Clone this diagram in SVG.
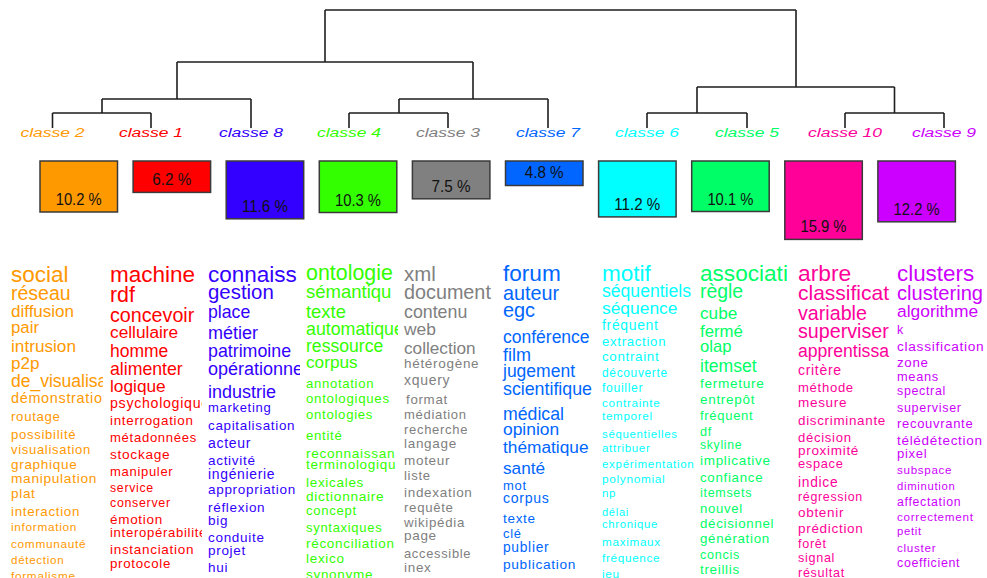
<svg xmlns="http://www.w3.org/2000/svg" width="987" height="578" viewBox="0 0 987 578">
<style>
text{font-family:"Liberation Sans",Arial,sans-serif}
.lab{font-style:italic;font-size:17.5px;text-anchor:middle}
.box{stroke:#3a3a3a;stroke-width:1.5}
.pct{font-size:16px;fill:#111;text-anchor:middle}
.link{fill:none;stroke:#1e1e1e;stroke-width:1.6}
.s{letter-spacing:0.7px}
.k1{fill:#FF0000}.k2{fill:#FF9900}.k3{fill:#808080}.k4{fill:#33FF00}.k5{fill:#00FF66}
.k6{fill:#00FFFF}.k7{fill:#0066FF}.k8{fill:#3300FF}.k9{fill:#CC00FF}.k10{fill:#FF0099}
</style>
<defs>
<clipPath id="cl0"><rect x="8" y="250" width="95" height="330"/></clipPath>
<clipPath id="cl1"><rect x="107" y="250" width="95" height="330"/></clipPath>
<clipPath id="cl2"><rect x="205" y="250" width="95" height="330"/></clipPath>
<clipPath id="cl3"><rect x="303" y="250" width="95" height="330"/></clipPath>
<clipPath id="cl4"><rect x="401" y="250" width="96" height="330"/></clipPath>
<clipPath id="cl5"><rect x="500" y="250" width="96" height="330"/></clipPath>
<clipPath id="cl6"><rect x="599" y="250" width="95" height="330"/></clipPath>
<clipPath id="cl7"><rect x="697" y="250" width="95" height="330"/></clipPath>
<clipPath id="cl8"><rect x="795" y="250" width="95" height="330"/></clipPath>
<clipPath id="cl9"><rect x="894" y="250" width="93" height="330"/></clipPath>
</defs>
<rect width="987" height="578" fill="#fff"/>

<g id="connectors">
<path class="link" d="M325 10H796M325 10V62M796 10V87
M177 62H473M177 62V99M473 62V99
M102 99H251M102 99V113M251 99V128
M52.5 113H151M52.5 113V128M151 113V128
M399 99H548M399 99V113M548 99V128
M349 113H448M349 113V128M448 113V128
M697 87H894.5M697 87V113M894.5 87V113
M647 113H747M647 113V128M747 113V128
M845 113H944M845 113V128M944 113V128"/>
</g>

<g id="classe-2">
<text class="lab k2" transform="translate(52.5,137) scale(1,0.7)">classe 2</text>
<rect class="box k2" x="40" y="161" width="77.5" height="51"/>
<text class="pct" x="78.7" y="205" textLength="46" lengthAdjust="spacingAndGlyphs">10.2 %</text>
<g class="k2" clip-path="url(#cl0)">
<text x="11" y="282" font-size="22.5">social</text>
<text x="11" y="300" font-size="19.5">réseau</text>
<text x="11" y="317" font-size="17">diffusion</text>
<text x="11" y="333" font-size="16.8">pair</text>
<text x="11" y="351.5" font-size="17.2">intrusion</text>
<text x="11" y="369" font-size="17">p2p</text>
<text x="11" y="387" font-size="17.5">de_visualisa</text>
<text class="s" x="11" y="403" font-size="14.4">démonstration</text>
<text class="s" x="11" y="421" font-size="13.2">routage</text>
<text class="s" x="11" y="439" font-size="13.1">possibilité</text>
<text class="s" x="11" y="454" font-size="13">visualisation</text>
<text class="s" x="11" y="469" font-size="13.5">graphique</text>
<text class="s" x="11" y="483" font-size="13.7">manipulation</text>
<text class="s" x="11" y="498" font-size="13.5">plat</text>
<text class="s" x="11" y="516" font-size="13.3">interaction</text>
<text class="s" x="11" y="531" font-size="11.8">information</text>
<text class="s" x="11" y="548" font-size="11.8">communauté</text>
<text class="s" x="11" y="564" font-size="11.6">détection</text>
<text class="s" x="11" y="580" font-size="11.8">formalisme</text>
</g>
</g>

<g id="classe-1">
<text class="lab k1" transform="translate(151,137) scale(1,0.7)">classe 1</text>
<rect class="box k1" x="133.1" y="161" width="77.5" height="31.4"/>
<text class="pct" x="171.8" y="185" textLength="39" lengthAdjust="spacingAndGlyphs">6.2 %</text>
<g class="k1" clip-path="url(#cl1)">
<text x="110" y="282" font-size="22.5">machine</text>
<text x="110" y="302" font-size="21.4">rdf</text>
<text x="110" y="321.5" font-size="19.7">concevoir</text>
<text x="110" y="338" font-size="17.3">cellulaire</text>
<text x="110" y="356.5" font-size="17.5">homme</text>
<text x="110" y="375" font-size="17.7">alimenter</text>
<text x="110" y="391.5" font-size="17.3">logique</text>
<text class="s" x="110" y="408" font-size="14.2">psychologique</text>
<text class="s" x="110" y="425" font-size="13.4">interrogation</text>
<text class="s" x="110" y="442" font-size="13.1">métadonnées</text>
<text class="s" x="110" y="459" font-size="13.7">stockage</text>
<text class="s" x="110" y="476" font-size="13">manipuler</text>
<text class="s" x="110" y="492" font-size="12.3">service</text>
<text class="s" x="110" y="507" font-size="12.4">conserver</text>
<text class="s" x="110" y="524" font-size="13.5">émotion</text>
<text class="s" x="110" y="537" font-size="13.1">interopérabilité</text>
<text class="s" x="110" y="554" font-size="13.5">instanciation</text>
<text class="s" x="110" y="568" font-size="13.3">protocole</text>
</g>
</g>

<g id="classe-8">
<text class="lab k8" transform="translate(251,137) scale(1,0.7)">classe 8</text>
<rect class="box k8" x="226.2" y="161" width="77.5" height="57.8"/>
<text class="pct" x="264.9" y="211.5" textLength="46" lengthAdjust="spacingAndGlyphs">11.6 %</text>
<g class="k8" clip-path="url(#cl2)">
<text x="208" y="281.5" font-size="22.5">connaiss</text>
<text x="208" y="299" font-size="20.4">gestion</text>
<text x="208" y="317.5" font-size="17.7">place</text>
<text x="208" y="339" font-size="18">métier</text>
<text x="208" y="356.5" font-size="17.8">patrimoine</text>
<text x="208" y="375" font-size="18">opérationnel</text>
<text x="208" y="397.5" font-size="18">industrie</text>
<text class="s" x="208" y="411.5" font-size="13">marketing</text>
<text class="s" x="208" y="430" font-size="13.4">capitalisation</text>
<text class="s" x="208" y="448" font-size="14">acteur</text>
<text class="s" x="208" y="465" font-size="13.5">activité</text>
<text class="s" x="208" y="479" font-size="13.9">ingénierie</text>
<text class="s" x="208" y="494" font-size="13.5">appropriation</text>
<text class="s" x="208" y="512" font-size="13.5">réflexion</text>
<text class="s" x="208" y="525" font-size="13.5">big</text>
<text class="s" x="208" y="542" font-size="13.5">conduite</text>
<text class="s" x="208" y="555" font-size="13.5">projet</text>
<text class="s" x="208" y="572" font-size="13.5">hui</text>
</g>
</g>

<g id="classe-4">
<text class="lab k4" transform="translate(349,137) scale(1,0.7)">classe 4</text>
<rect class="box k4" x="319.3" y="161" width="77.5" height="51.5"/>
<text class="pct" x="358" y="205.5" textLength="46" lengthAdjust="spacingAndGlyphs">10.3 %</text>
<g class="k4" clip-path="url(#cl3)">
<text x="306" y="280" font-size="21.4">ontologie</text>
<text x="306" y="298" font-size="18.5">sémantiqu</text>
<text x="306" y="317.5" font-size="18.4">texte</text>
<text x="306" y="335" font-size="17.8">automatique</text>
<text x="306" y="351.5" font-size="17.6">ressource</text>
<text x="306" y="368" font-size="17.2">corpus</text>
<text class="s" x="306" y="388" font-size="13.1">annotation</text>
<text class="s" x="306" y="403" font-size="13.3">ontologiques</text>
<text class="s" x="306" y="419" font-size="13.2">ontologies</text>
<text class="s" x="306" y="440" font-size="13.2">entité</text>
<text class="s" x="306" y="457.5" font-size="13.6">reconnaissan</text>
<text class="s" x="306" y="469" font-size="13.5">terminologiqu</text>
<text class="s" x="306" y="487" font-size="13.5">lexicales</text>
<text class="s" x="306" y="501" font-size="13.7">dictionnaire</text>
<text class="s" x="306" y="515" font-size="13.1">concept</text>
<text class="s" x="306" y="532" font-size="13">syntaxiques</text>
<text class="s" x="306" y="548" font-size="13.5">réconciliation</text>
<text class="s" x="306" y="563" font-size="13.5">lexico</text>
<text class="s" x="306" y="579" font-size="13.5">synonyme</text>
</g>
</g>

<g id="classe-3">
<text class="lab k3" transform="translate(448,137) scale(1,0.7)">classe 3</text>
<rect class="box k3" x="412.4" y="161" width="77.5" height="37.8"/>
<text class="pct" x="451.1" y="192" textLength="39" lengthAdjust="spacingAndGlyphs">7.5 %</text>
<g class="k3" clip-path="url(#cl4)">
<text x="404" y="281" font-size="20.4">xml</text>
<text x="404" y="299" font-size="19.8">document</text>
<text x="404" y="317.5" font-size="17.8">contenu</text>
<text x="404" y="335" font-size="17.4">web</text>
<text x="404" y="354" font-size="17.2">collection</text>
<text class="s" x="404" y="368" font-size="13.5">hétérogène</text>
<text class="s" x="404" y="385" font-size="14">xquery</text>
<text class="s" x="406" y="404" font-size="13.3">format</text>
<text class="s" x="404" y="419" font-size="13">médiation</text>
<text class="s" x="404" y="434" font-size="13">recherche</text>
<text class="s" x="404" y="448" font-size="13.5">langage</text>
<text class="s" x="404" y="465" font-size="13.5">moteur</text>
<text class="s" x="404" y="480" font-size="13.1">liste</text>
<text class="s" x="404" y="497" font-size="13.5">indexation</text>
<text class="s" x="404" y="512" font-size="13.2">requête</text>
<text class="s" x="404" y="527" font-size="13.3">wikipédia</text>
<text class="s" x="404" y="540" font-size="13.5">page</text>
<text class="s" x="404" y="558" font-size="12.9">accessible</text>
<text class="s" x="404" y="572" font-size="13.5">inex</text>
</g>
</g>

<g id="classe-7">
<text class="lab k7" transform="translate(548,137) scale(1,0.7)">classe 7</text>
<rect class="box k7" x="505.5" y="161" width="77.5" height="24.5"/>
<text class="pct" x="544.2" y="178" textLength="39" lengthAdjust="spacingAndGlyphs">4.8 %</text>
<g class="k7" clip-path="url(#cl5)">
<text x="503" y="281" font-size="22.6">forum</text>
<text x="503" y="300" font-size="19.8">auteur</text>
<text x="503" y="316.5" font-size="19.9">egc</text>
<text x="503" y="342.5" font-size="17.5">conférence</text>
<text x="503" y="361" font-size="18">film</text>
<text x="503" y="376.5" font-size="17.5">jugement</text>
<text x="503" y="395" font-size="17.8">scientifique</text>
<text x="503" y="420" font-size="17.7">médical</text>
<text x="503" y="435" font-size="17.4">opinion</text>
<text x="503" y="453" font-size="17.3">thématique</text>
<text x="503" y="474" font-size="17.2">santé</text>
<text class="s" x="503" y="490" font-size="13">mot</text>
<text class="s" x="503" y="503" font-size="14.1">corpus</text>
<text class="s" x="503" y="523" font-size="13.5">texte</text>
<text class="s" x="503" y="538" font-size="12.9">clé</text>
<text class="s" x="503" y="552" font-size="13.8">publier</text>
<text class="s" x="503" y="569" font-size="13.7">publication</text>
</g>
</g>

<g id="classe-6">
<text class="lab k6" transform="translate(647,137) scale(1,0.7)">classe 6</text>
<rect class="box k6" x="598.6" y="161" width="77.5" height="55.9"/>
<text class="pct" x="637.3" y="210" textLength="46" lengthAdjust="spacingAndGlyphs">11.2 %</text>
<g class="k6" clip-path="url(#cl6)">
<text x="602" y="281" font-size="22.5">motif</text>
<text x="602" y="297" font-size="17.6">séquentiels</text>
<text x="602" y="314" font-size="17.4">séquence</text>
<text class="s" x="602" y="330" font-size="13.9">fréquent</text>
<text class="s" x="602" y="346" font-size="13.2">extraction</text>
<text class="s" x="602" y="361" font-size="13.3">contraint</text>
<text class="s" x="602" y="377" font-size="11.9">découverte</text>
<text class="s" x="602" y="392" font-size="12.1">fouiller</text>
<text class="s" x="602" y="407" font-size="11.7">contrainte</text>
<text class="s" x="602" y="420" font-size="11.6">temporel</text>
<text class="s" x="602" y="437.5" font-size="11.4">séquentielles</text>
<text class="s" x="602" y="452" font-size="11.5">attribuer</text>
<text class="s" x="602" y="468" font-size="11.5">expérimentation</text>
<text class="s" x="602" y="483" font-size="11.8">polynomial</text>
<text class="s" x="602" y="497" font-size="11.5">np</text>
<text class="s" x="602" y="516" font-size="11.1">délai</text>
<text class="s" x="602" y="528" font-size="11.3">chronique</text>
<text class="s" x="602" y="546" font-size="11.7">maximaux</text>
<text class="s" x="602" y="562" font-size="11.7">fréquence</text>
<text class="s" x="602" y="578" font-size="11.7">jeu</text>
</g>
</g>

<g id="classe-5">
<text class="lab k5" transform="translate(747,137) scale(1,0.7)">classe 5</text>
<rect class="box k5" x="691.7" y="161" width="77.5" height="50.5"/>
<text class="pct" x="730.4" y="204.5" textLength="46" lengthAdjust="spacingAndGlyphs">10.1 %</text>
<g class="k5" clip-path="url(#cl7)">
<text x="700" y="281" font-size="22.6">associati</text>
<text x="700" y="298" font-size="19.4">règle</text>
<text x="700" y="319" font-size="17.2">cube</text>
<text x="700" y="336.5" font-size="16.8">fermé</text>
<text x="700" y="351.5" font-size="16.6">olap</text>
<text x="700" y="371.5" font-size="17.6">itemset</text>
<text class="s" x="700" y="388" font-size="13.6">fermeture</text>
<text class="s" x="700" y="404" font-size="13.5">entrepôt</text>
<text class="s" x="700" y="420" font-size="13">fréquent</text>
<text class="s" x="700" y="435.5" font-size="12.6">df</text>
<text class="s" x="700" y="449" font-size="12.2">skyline</text>
<text class="s" x="700" y="465" font-size="13.5">implicative</text>
<text class="s" x="700" y="482" font-size="13.3">confiance</text>
<text class="s" x="700" y="497" font-size="12.5">itemsets</text>
<text class="s" x="700" y="513" font-size="13.1">nouvel</text>
<text class="s" x="700" y="528" font-size="13.3">décisionnel</text>
<text class="s" x="700" y="543" font-size="13.3">génération</text>
<text class="s" x="700" y="559" font-size="12.6">concis</text>
<text class="s" x="700" y="574" font-size="13.4">treillis</text>
</g>
</g>

<g id="classe-10">
<text class="lab k10" transform="translate(845,137) scale(1,0.7)">classe 10</text>
<rect class="box k10" x="784.8" y="161" width="77.5" height="78.4"/>
<text class="pct" x="823.5" y="232" textLength="46" lengthAdjust="spacingAndGlyphs">15.9 %</text>
<g class="k10" clip-path="url(#cl8)">
<text x="798" y="281" font-size="22.8">arbre</text>
<text x="798" y="300" font-size="21">classificat</text>
<text x="798" y="320" font-size="19.7">variable</text>
<text x="798" y="338" font-size="19.7">superviser</text>
<text x="798" y="356.5" font-size="17.6">apprentissa</text>
<text class="s" x="798" y="375" font-size="14">critère</text>
<text class="s" x="798" y="391.5" font-size="13.1">méthode</text>
<text class="s" x="798" y="406.5" font-size="13.5">mesure</text>
<text class="s" x="798" y="425" font-size="13.4">discriminante</text>
<text class="s" x="798" y="441.5" font-size="13.1">décision</text>
<text class="s" x="798" y="455" font-size="13.5">proximité</text>
<text class="s" x="798" y="468" font-size="12.8">espace</text>
<text class="s" x="798" y="487" font-size="13.8">indice</text>
<text class="s" x="798" y="501" font-size="12.4">régression</text>
<text class="s" x="798" y="517" font-size="13.5">obtenir</text>
<text class="s" x="798" y="533" font-size="13.5">prédiction</text>
<text class="s" x="798" y="548" font-size="12.6">forêt</text>
<text class="s" x="798" y="562" font-size="12.6">signal</text>
<text class="s" x="798" y="577" font-size="12.6">résultat</text>
</g>
</g>

<g id="classe-9">
<text class="lab k9" transform="translate(944,137) scale(1,0.7)">classe 9</text>
<rect class="box k9" x="877.9" y="161" width="77.5" height="60.8"/>
<text class="pct" x="916.6" y="214.5" textLength="46" lengthAdjust="spacingAndGlyphs">12.2 %</text>
<g class="k9" clip-path="url(#cl9)">
<text x="897" y="281" font-size="22.4">clusters</text>
<text x="897" y="300" font-size="20.1">clustering</text>
<text x="897" y="316.5" font-size="17.4">algorithme</text>
<text class="s" x="897" y="334" font-size="12.6">k</text>
<text class="s" x="897" y="351" font-size="13.7">classification</text>
<text class="s" x="897" y="366.5" font-size="13.3">zone</text>
<text class="s" x="897" y="381" font-size="12.8">means</text>
<text class="s" x="897" y="395" font-size="12.4">spectral</text>
<text class="s" x="897" y="411.5" font-size="12.5">superviser</text>
<text class="s" x="897" y="428" font-size="13">recouvrante</text>
<text class="s" x="897" y="445" font-size="13.5">télédétection</text>
<text class="s" x="897" y="458" font-size="13.1">pixel</text>
<text class="s" x="897" y="474" font-size="11.6">subspace</text>
<text class="s" x="897" y="490" font-size="11.3">diminution</text>
<text class="s" x="897" y="505.5" font-size="12.3">affectation</text>
<text class="s" x="897" y="521" font-size="11.7">correctement</text>
<text class="s" x="897" y="535" font-size="11.3">petit</text>
<text class="s" x="897" y="552" font-size="11.7">cluster</text>
<text class="s" x="897" y="567" font-size="12.4">coefficient</text>
</g>
</g>
</svg>
